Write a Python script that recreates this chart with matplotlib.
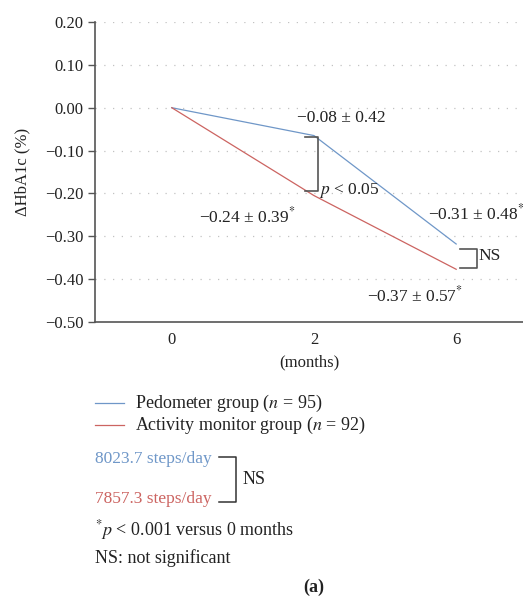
import matplotlib
matplotlib.use("Agg")
import matplotlib.pyplot as plt

months = ["0", "2", "6"]
pedometer = [0.0, -0.065, -0.318]
activity = [0.0, -0.205, -0.377]
yticks = [0.20, 0.10, 0.00, -0.10, -0.20, -0.30, -0.40, -0.50]
label_ped = ["", "\u22120.08 \u00b1 0.42", "\u22120.31 \u00b1 0.48$^{*}$"]
label_act = ["", "\u22120.24 \u00b1 0.39$^{*}$", "\u22120.37 \u00b1 0.57$^{*}$"]
steps = ["8023.7 steps/day", "7857.3 steps/day"]

BLUE = "#6f97c8"
RED = "#cc6461"
TXT = "#222222"

plt.rcParams['font.family'] = ['Liberation Serif', 'DejaVu Serif']
plt.rcParams['mathtext.fontset'] = 'stix'

W, H = 523, 597
fig = plt.figure(figsize=(W / 100, H / 100), dpi=100)
ax = fig.add_axes([95 / W, 1 - 322 / H, 1 - 95 / W, 300 / H])

x = list(range(len(months)))
ax.plot(x, pedometer, color=BLUE, lw=0.9)
ax.plot(x, activity, color=RED, lw=0.9)

ax.set_xlim(-0.54, 2.47)
ax.set_ylim(-0.50, 0.20)
ax.set_yticks(yticks)
ax.set_yticklabels([f"{v:.2f}".replace("-", "\u2212") for v in yticks])
ax.set_xticks(x)
ax.set_xticklabels(months)
for v in yticks[:-1]:
    ax.axhline(v, color="#c2c2c2", lw=0.9, ls=(0, (1, 6)), zorder=0)

for s in ["top", "right"]:
    ax.spines[s].set_visible(False)
for s in ["left", "bottom"]:
    ax.spines[s].set_color("#555555")
    ax.spines[s].set_linewidth(1.2)
ax.tick_params(axis="y", length=5, width=1.0, color="#555555", labelsize=12, labelcolor=TXT)
ax.tick_params(axis="x", length=0, labelsize=12, labelcolor=TXT, pad=7)
ax.set_ylabel("\u0394HbA1c (%)", fontsize=12, color=TXT, labelpad=10)
ax.set_xlabel("(months)", fontsize=12, color=TXT, labelpad=5)

fs = 12.5
ax.text(1.19, -0.023, label_ped[1], ha="center", va="center", fontsize=fs, color=TXT)
ax.text(1.80, -0.246, label_ped[2], ha="left", va="center", fontsize=fs, color=TXT)
ax.text(0.53, -0.254, label_act[1], ha="center", va="center", fontsize=fs, color=TXT)
ax.text(1.71, -0.439, label_act[2], ha="center", va="center", fontsize=fs, color=TXT)

# brackets
ax.plot([0.94, 1.03, 1.03, 0.94], [-0.068, -0.068, -0.195, -0.195], color="#555555", lw=1.2)
ax.text(1.035, -0.192, "$p$ < 0.05", ha="left", va="center", fontsize=fs, color=TXT)
ax.plot([2.03, 2.15, 2.15, 2.03], [-0.329, -0.329, -0.373, -0.373], color="#555555", lw=1.2)
ax.text(2.16, -0.347, "NS", ha="left", va="center", fontsize=fs, color=TXT)

# legend area (figure coords)
def fx(px):
    return px / W

def fy(py):
    return 1 - py / H

lfs = 13
fig.add_artist(plt.Line2D([fx(95), fx(124)], [fy(403), fy(403)], color=BLUE, lw=0.9))
fig.add_artist(plt.Line2D([fx(95), fx(124)], [fy(425), fy(425)], color=RED, lw=0.9))
fig.text(fx(135), fy(403), "Pedometer group ($n$ = 95)", ha="left", va="center", fontsize=lfs, color=TXT)
fig.text(fx(135), fy(425), "Activity monitor group ($n$ = 92)", ha="left", va="center", fontsize=lfs, color=TXT)

fig.text(fx(95), fy(459), steps[0], ha="left", va="center", fontsize=12.5, color=BLUE)
fig.text(fx(95), fy(499), steps[1], ha="left", va="center", fontsize=12.5, color=RED)
fig.add_artist(plt.Line2D([fx(219), fx(236), fx(236), fx(219)],
                          [fy(457), fy(457), fy(502), fy(502)], color="#333333", lw=1.1))
fig.text(fx(243), fy(480), "NS", ha="left", va="center", fontsize=lfs, color=TXT)
fig.text(fx(95), fy(530), "$^{*}$$p$ < 0.001 versus 0 months", ha="left", va="center", fontsize=lfs, color=TXT)
fig.text(fx(95), fy(558), "NS: not significant", ha="left", va="center", fontsize=lfs, color=TXT)
fig.text(fx(314), fy(587), "(a)", ha="center", va="center", fontsize=lfs, color=TXT, fontweight="bold")

fig.savefig("out.png", dpi=100)
